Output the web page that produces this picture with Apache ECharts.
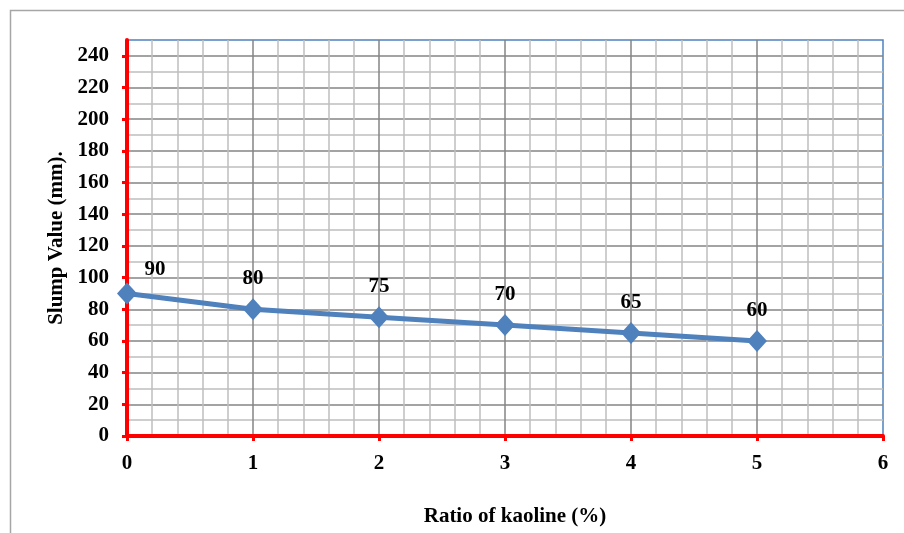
<!DOCTYPE html>
<html>
<head>
<meta charset="utf-8">
<script src="https://cdn.jsdelivr.net/npm/echarts@6/dist/echarts.min.js"></script>
<style>
  html, body { margin: 0; padding: 0; background: #fff; }
  #chart { width: 904px; height: 533px; }
</style>
</head>
<body>
<div id="chart"></div>
<script>
// Kaoline ratio (%) against measured slump (mm)
const kaolineRatio = [0, 1, 2, 3, 4, 5];
const slumpValues = [90, 80, 75, 70, 65, 60];

const FONT = '"Liberation Serif", "Times New Roman", serif';
const FS = 21;
const BLUE = '#4F81BD';
const RED = '#FF0000';

const points = kaolineRatio.map((x, i) => {
  const p = { value: [x, slumpValues[i]] };
  if (i === 0) p.label = { offset: [28, 7] };
  return p;
});

const chart = echarts.init(document.getElementById('chart'));
chart.setOption({
  animation: false,
  backgroundColor: '#fff',
  graphic: [{
    type: 'rect',
    shape: { x: 10.5, y: 10.5, width: 920, height: 560 },
    style: { fill: 'none', stroke: '#A6A6A6', lineWidth: 1.5 },
    z: -10
  }],
  grid: {
    left: 127, right: 21, top: 40, bottom: 97,
    show: true, borderColor: BLUE, borderWidth: 1.5, backgroundColor: 'transparent'
  },
  xAxis: {
    type: 'value', min: 0, max: 6, interval: 1,
    name: 'Ratio of kaoline (%)', nameLocation: 'middle', nameGap: 70,
    nameTextStyle: { fontFamily: FONT, fontWeight: 'bold', fontSize: FS, color: '#000', padding: [0, 0, 0, 20] },
    axisLine: { show: true, onZero: false, lineStyle: { color: RED, width: 4 } },
    axisTick: { show: true, length: 5, lineStyle: { color: RED, width: 3 } },
    axisLabel: { margin: 17, fontFamily: FONT, fontWeight: 'bold', fontSize: FS, color: '#000' },
    splitLine: { show: true, showMaxLine: false, lineStyle: { color: '#858585', width: 1.5 } },
    minorTick: { show: false, splitNumber: 5 },
    minorSplitLine: { show: true, lineStyle: { color: '#BEBEBE', width: 1.5 } }
  },
  yAxis: {
    type: 'value', min: 0, max: 250, interval: 20,
    name: 'Slump Value (mm).', nameLocation: 'middle', nameGap: 55,
    nameTextStyle: { fontFamily: FONT, fontWeight: 'bold', fontSize: FS, color: '#000' },
    axisLine: { show: true, onZero: false, lineStyle: { color: RED, width: 4 } },
    axisTick: { show: true, length: 5, lineStyle: { color: RED, width: 3 } },
    axisLabel: {
      margin: 18, fontFamily: FONT, fontWeight: 'bold', fontSize: FS, color: '#000',
      showMaxLabel: false
    },
    splitLine: { show: true, showMaxLine: false, lineStyle: { color: '#858585', width: 1.5 } },
    minorTick: { show: false, splitNumber: 2 },
    minorSplitLine: { show: true, lineStyle: { color: '#BEBEBE', width: 1.5 } }
  },
  series: [{
    type: 'line',
    data: points,
    symbol: 'diamond', symbolSize: [20, 22],
    lineStyle: { color: BLUE, width: 5 },
    itemStyle: { color: BLUE },
    label: {
      show: true, position: 'top', distance: 9,
      formatter: p => p.value[1],
      fontFamily: FONT, fontWeight: 'bold', fontSize: FS, color: '#000'
    },
    z: 5
  }]
});
</script>
</body>
</html>
